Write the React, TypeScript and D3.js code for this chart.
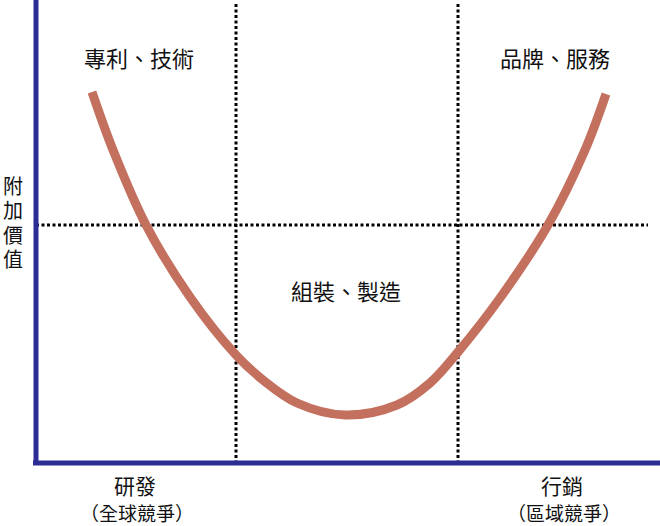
import React from "react";
import * as d3 from "d3";

// Smile curve (value units: x along value chain, y = added value)
const curveX = [56, 77, 110, 154, 200, 227, 261, 309, 361, 394, 422, 464, 512, 549, 570];
const curveY = [371, 313, 238, 166, 108, 83, 60, 48, 58, 80, 111, 165, 238, 313, 369];

// reference lines
const dividerX = [200, 422];
const levelY = [238];

const stageLabels = ["專利、技術", "組裝、製造", "品牌、服務"];
const stageLabelX = [103, 310, 519];
const stageLabelY = [406, 173, 406];

const bottomLabels = ["研發", "行銷"];
const bottomSubLabels = ["（全球競爭）", "（區域競爭）"];
const bottomLabelX = [99, 526];

const yTitle = "附加價值";

const W = 660;
const H = 526;
const left = 36;
const bottom = 463;

export default function App() {
  const x = d3.scaleLinear().domain([0, 624]).range([left, 660]);
  const y = d3.scaleLinear().domain([0, 463]).range([bottom, 0]);
  const pts: [number, number][] = curveX.map((v, i) => [v, curveY[i]]);
  const line = d3
    .line<[number, number]>()
    .x((d) => x(d[0]))
    .y((d) => y(d[1]))
    .curve(d3.curveCatmullRom.alpha(0.5));
  const font = "'Noto Sans CJK TC', 'Noto Sans CJK SC', sans-serif";
  return (
    <svg
      width={W}
      height={H}
      style={{ position: "absolute", left: 0, top: 0, background: "#fff" }}
      fontFamily={font}
    >
      {levelY.map((v, i) => (
        <line
          key={"h" + i}
          x1={left}
          x2={648}
          y1={y(v)}
          y2={y(v)}
          stroke="#000"
          strokeWidth={3}
          strokeDasharray="3 2.5"
        />
      ))}
      {dividerX.map((v, i) => (
        <line
          key={"v" + i}
          x1={x(v)}
          x2={x(v)}
          y1={4}
          y2={bottom - 2}
          stroke="#000"
          strokeWidth={3}
          strokeDasharray="3 2.5"
        />
      ))}
      <path d={line(pts) || ""} fill="none" stroke="#c4705f" strokeWidth={9} />
      <line x1={left} x2={left} y1={0} y2={bottom + 2} stroke="#2b2d94" strokeWidth={5} />
      <line x1={left - 3} x2={W} y1={bottom} y2={bottom} stroke="#2b2d94" strokeWidth={5} />
      {stageLabels.map((t, i) => (
        <text
          key={t}
          x={x(stageLabelX[i])}
          y={y(stageLabelY[i])}
          textAnchor="middle"
          dominantBaseline="central"
          fontSize={22}
          fill="#111"
        >
          {t}
        </text>
      ))}
      <text
        x={13}
        y={176}
        style={{ writingMode: "vertical-rl" }}
        fontSize={20}
        letterSpacing={4.5}
        fill="#111"
      >
        {yTitle}
      </text>
      {bottomLabels.map((t, i) => (
        <g key={t}>
          <text
            x={x(bottomLabelX[i])}
            y={485}
            textAnchor="middle"
            dominantBaseline="central"
            fontSize={21}
            fill="#111"
          >
            {t}
          </text>
          <text
            x={x(bottomLabelX[i]) + 2}
            y={512}
            textAnchor="middle"
            dominantBaseline="central"
            fontSize={19}
            fill="#111"
          >
            {bottomSubLabels[i]}
          </text>
        </g>
      ))}
    </svg>
  );
}
